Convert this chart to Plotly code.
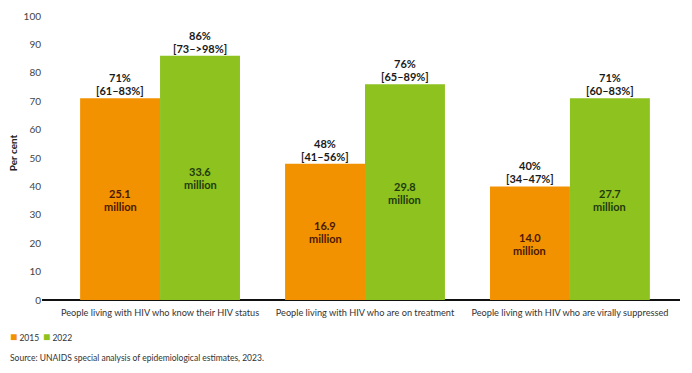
import plotly.graph_objects as go

categories = [
    "People living with HIV who know their HIV status",
    "People living with HIV who are on treatment",
    "People living with HIV who are virally suppressed",
]
years = ["2015", "2022"]
values_2015 = [71, 48, 40]
values_2022 = [86, 76, 71]
ranges_2015 = ["[61–83%]", "[41–56%]", "[34–47%]"]
ranges_2022 = ["[73–>98%]", "[65–89%]", "[60–83%]"]
people_2015 = ["25.1", "16.9", "14.0"]
people_2022 = ["33.6", "29.8", "27.7"]
y_ticks = list(range(0, 101, 10))

ORANGE = "#F39200"
GREEN = "#8DC21F"
FONT = "Lato, Arial, sans-serif"
BAR_W = 0.39

xs = list(range(len(categories)))

fig = go.Figure()
fig.add_trace(go.Bar(
    name=years[0], x=xs, y=values_2015, width=BAR_W, offset=-BAR_W,
    marker=dict(color=ORANGE, line=dict(width=0)), showlegend=False,
))
fig.add_trace(go.Bar(
    name=years[1], x=xs, y=values_2022, width=BAR_W, offset=0,
    marker=dict(color=GREEN, line=dict(width=0)), showlegend=False,
))

annotations = []
series = [
    (values_2015, ranges_2015, people_2015, -BAR_W / 2, "#4a1800"),
    (values_2022, ranges_2022, people_2022, BAR_W / 2, "#1f3a0c"),
]
for vals, rngs, ppl, off, inner_col in series:
    for i, (v, r, p) in enumerate(zip(vals, rngs, ppl)):
        annotations.append(dict(
            x=i + off, y=v, xref="x", yref="y",
            text=f"<b>{r}</b>",
            showarrow=False, yanchor="bottom", yshift=-1,
            font=dict(family=FONT, size=11, color="#1a1a1a"),
        ))
        annotations.append(dict(
            x=i + off, y=v, xref="x", yref="y",
            text=f"<b>{v}%</b>",
            showarrow=False, yanchor="bottom", yshift=12,
            font=dict(family=FONT, size=11, color="#1a1a1a"),
        ))
        annotations.append(dict(
            x=i + off, y=v / 2, xref="x", yref="y",
            text=f"<b>{p}</b>",
            showarrow=False, yanchor="middle", yshift=6,
            font=dict(family=FONT, size=11, color=inner_col),
        ))
        annotations.append(dict(
            x=i + off, y=v / 2, xref="x", yref="y",
            text="<b>million</b>",
            showarrow=False, yanchor="middle", yshift=-7,
            font=dict(family=FONT, size=11, color=inner_col),
        ))

# y-axis title
annotations.append(dict(
    x=-0.0455, y=0.52, xref="paper", yref="paper", textangle=-90,
    xanchor="center", yanchor="middle", showarrow=False,
    text="<b>Per cent</b>", font=dict(family=FONT, size=10, color="#222"),
))

# legend (manual)
for name, col, lx in zip(years, [ORANGE, GREEN], [-0.0533, -0.0016]):
    annotations.append(dict(
        x=lx, y=-0.13, xref="paper", yref="paper",
        xanchor="left", yanchor="middle", showarrow=False,
        text=f"<span style='color:{col};font-size:12px'>■</span> {name}",
        font=dict(family=FONT, size=8.5, color="#333"),
    ))

annotations.append(dict(
    x=-0.0533, y=-0.204, xref="paper", yref="paper",
    xanchor="left", yanchor="middle", showarrow=False,
    text="Source: UNAIDS special analysis of epidemiological estimates, 2023.",
    font=dict(family=FONT, size=8.5, color="#333"),
))

fig.update_layout(
    width=684, height=365,
    margin=dict(l=34, r=12, t=8, b=73),
    paper_bgcolor="white", plot_bgcolor="white",
    barmode="overlay",
    showlegend=False,
    annotations=annotations,
    xaxis=dict(
        tickmode="array", tickvals=xs, ticktext=categories,
        range=[-0.576, 2.537], tickangle=0, automargin=False,
        showgrid=False, zeroline=False, showline=False,
        tickfont=dict(family=FONT, size=9.2, color="#333"),
        ticks="", ticklabelstandoff=6,
    ),
    yaxis=dict(
        range=[0, 100], tickmode="array", tickvals=y_ticks, automargin=False,
        showgrid=False, zeroline=True, zerolinecolor="#111", zerolinewidth=1.5,
        showline=False,
        tickfont=dict(family=FONT, size=10, color="#444"),
        ticks="",
    ),
)

fig.write_html("out.html")
